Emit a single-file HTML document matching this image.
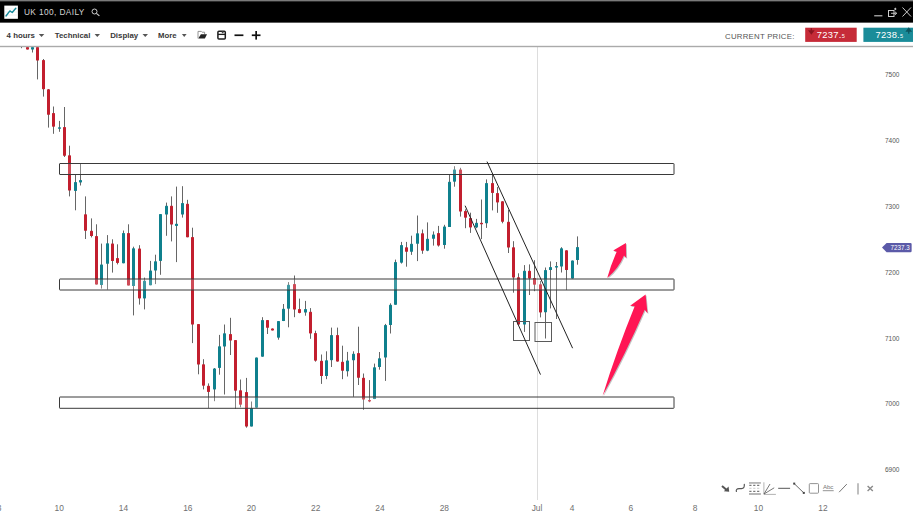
<!DOCTYPE html>
<html><head><meta charset="utf-8">
<style>
html,body{margin:0;padding:0;background:#fff;width:913px;height:516px;overflow:hidden;}
svg{position:absolute;left:0;top:0;display:block;}
text{font-family:"Liberation Sans",sans-serif;}
</style></head><body>
<svg width="913" height="516" viewBox="0 0 913 516">
<rect x="0" y="0" width="913" height="516" fill="#fff"/>
<!-- chart clip area -->
<defs><clipPath id="cl"><rect x="0" y="47" width="913" height="469"/></clipPath></defs>
<line x1="537.5" y1="47" x2="537.5" y2="500" stroke="#ddd" stroke-width="1"/>
<g clip-path="url(#cl)">
<line x1="21.50" y1="47" x2="21.50" y2="48.2" stroke="#666" stroke-width="1"/>
<line x1="27.50" y1="47" x2="27.50" y2="49.5" stroke="#666" stroke-width="1"/>
<rect x="26.00" y="47" width="3.0" height="2.50" rx="0.6" fill="#c21f2e"/>
<line x1="32.50" y1="47" x2="32.50" y2="52.5" stroke="#666" stroke-width="1"/>
<rect x="31.00" y="47" width="3.0" height="2.60" rx="0.6" fill="#0f808d"/>
<line x1="37.50" y1="47" x2="37.50" y2="79.4" stroke="#666" stroke-width="1"/>
<rect x="36.00" y="47" width="3.0" height="13.50" rx="0.6" fill="#c21f2e"/>
<line x1="43.50" y1="59" x2="43.50" y2="96.6" stroke="#666" stroke-width="1"/>
<rect x="42.00" y="60" width="3.0" height="29.20" rx="0.6" fill="#c21f2e"/>
<line x1="48.50" y1="89" x2="48.50" y2="127.6" stroke="#666" stroke-width="1"/>
<rect x="47.00" y="89.2" width="3.0" height="25.60" rx="0.6" fill="#c21f2e"/>
<line x1="53.50" y1="106.5" x2="53.50" y2="133.8" stroke="#666" stroke-width="1"/>
<rect x="52.00" y="112.9" width="3.0" height="13.80" rx="0.6" fill="#c21f2e"/>
<line x1="59.50" y1="120.9" x2="59.50" y2="131.8" stroke="#666" stroke-width="1"/>
<rect x="58.00" y="127.3" width="3.0" height="1.50" rx="0.6" fill="#0f808d"/>
<line x1="64.50" y1="107" x2="64.50" y2="157" stroke="#666" stroke-width="1"/>
<rect x="63.00" y="127.1" width="3.0" height="28.70" rx="0.6" fill="#c21f2e"/>
<line x1="69.50" y1="145.7" x2="69.50" y2="196.4" stroke="#666" stroke-width="1"/>
<rect x="68.00" y="155.3" width="3.0" height="35.30" rx="0.6" fill="#c21f2e"/>
<line x1="75.50" y1="174.4" x2="75.50" y2="210.3" stroke="#666" stroke-width="1"/>
<rect x="74.00" y="182.1" width="3.0" height="8.80" rx="0.6" fill="#0f808d"/>
<line x1="80.50" y1="163.5" x2="80.50" y2="185.5" stroke="#666" stroke-width="1"/>
<rect x="79.00" y="180" width="3.0" height="2.40" rx="0.6" fill="#0f808d"/>
<line x1="85.50" y1="196.4" x2="85.50" y2="239" stroke="#666" stroke-width="1"/>
<rect x="84.00" y="214.2" width="3.0" height="16.60" rx="0.6" fill="#c21f2e"/>
<line x1="91.50" y1="218.4" x2="91.50" y2="237.4" stroke="#666" stroke-width="1"/>
<rect x="90.00" y="230.8" width="3.0" height="5.20" rx="0.6" fill="#c21f2e"/>
<line x1="96.50" y1="224.3" x2="96.50" y2="284.6" stroke="#666" stroke-width="1"/>
<rect x="95.00" y="235.9" width="3.0" height="48.70" rx="0.6" fill="#c21f2e"/>
<line x1="101.50" y1="243.6" x2="101.50" y2="288.6" stroke="#666" stroke-width="1"/>
<rect x="100.00" y="264.4" width="3.0" height="20.60" rx="0.6" fill="#0f808d"/>
<line x1="107.50" y1="235.1" x2="107.50" y2="289.7" stroke="#666" stroke-width="1"/>
<rect x="106.00" y="243.2" width="3.0" height="20.60" rx="0.6" fill="#0f808d"/>
<line x1="112.50" y1="239.3" x2="112.50" y2="272.6" stroke="#666" stroke-width="1"/>
<rect x="111.00" y="243.6" width="3.0" height="17.40" rx="0.6" fill="#c21f2e"/>
<line x1="117.50" y1="244.3" x2="117.50" y2="264.4" stroke="#666" stroke-width="1"/>
<rect x="116.00" y="257.9" width="3.0" height="5.00" rx="0.6" fill="#c21f2e"/>
<line x1="123.50" y1="230.5" x2="123.50" y2="263.3" stroke="#666" stroke-width="1"/>
<rect x="122.00" y="233.1" width="3.0" height="30.20" rx="0.6" fill="#0f808d"/>
<line x1="128.50" y1="224.3" x2="128.50" y2="285.5" stroke="#666" stroke-width="1"/>
<rect x="127.00" y="233.1" width="3.0" height="52.40" rx="0.6" fill="#c21f2e"/>
<line x1="133.50" y1="246.7" x2="133.50" y2="315.4" stroke="#666" stroke-width="1"/>
<rect x="132.00" y="248.3" width="3.0" height="37.70" rx="0.6" fill="#0f808d"/>
<line x1="139.50" y1="245.2" x2="139.50" y2="304.6" stroke="#666" stroke-width="1"/>
<rect x="138.00" y="248.6" width="3.0" height="49.80" rx="0.6" fill="#c21f2e"/>
<line x1="144.50" y1="277.6" x2="144.50" y2="309.4" stroke="#666" stroke-width="1"/>
<rect x="143.00" y="280.7" width="3.0" height="17.70" rx="0.6" fill="#0f808d"/>
<line x1="150.50" y1="260.9" x2="150.50" y2="285.3" stroke="#666" stroke-width="1"/>
<rect x="149.00" y="270.6" width="3.0" height="14.70" rx="0.6" fill="#0f808d"/>
<line x1="155.50" y1="254.7" x2="155.50" y2="284.1" stroke="#666" stroke-width="1"/>
<rect x="154.00" y="261.2" width="3.0" height="9.40" rx="0.6" fill="#0f808d"/>
<line x1="160.50" y1="214" x2="160.50" y2="274.8" stroke="#666" stroke-width="1"/>
<rect x="159.00" y="214.1" width="3.0" height="46.80" rx="0.6" fill="#0f808d"/>
<line x1="166.50" y1="202.6" x2="166.50" y2="235.8" stroke="#666" stroke-width="1"/>
<rect x="165.00" y="205.7" width="3.0" height="8.80" rx="0.6" fill="#0f808d"/>
<line x1="171.50" y1="196.4" x2="171.50" y2="241.4" stroke="#666" stroke-width="1"/>
<rect x="170.00" y="205.7" width="3.0" height="18.90" rx="0.6" fill="#c21f2e"/>
<line x1="176.50" y1="186.6" x2="176.50" y2="262.1" stroke="#666" stroke-width="1"/>
<rect x="175.00" y="223.8" width="3.0" height="2.10" rx="0.6" fill="#0f808d"/>
<line x1="182.50" y1="186.2" x2="182.50" y2="217.6" stroke="#666" stroke-width="1"/>
<rect x="181.00" y="202.9" width="3.0" height="11.60" rx="0.6" fill="#0f808d"/>
<line x1="187.50" y1="199.8" x2="187.50" y2="237.3" stroke="#666" stroke-width="1"/>
<rect x="186.00" y="203.7" width="3.0" height="33.60" rx="0.6" fill="#c21f2e"/>
<line x1="192.50" y1="227.7" x2="192.50" y2="343.1" stroke="#666" stroke-width="1"/>
<rect x="191.00" y="237" width="3.0" height="87.50" rx="0.6" fill="#c21f2e"/>
<line x1="198.50" y1="324" x2="198.50" y2="374.3" stroke="#666" stroke-width="1"/>
<rect x="197.00" y="324" width="3.0" height="40.50" rx="0.6" fill="#c21f2e"/>
<line x1="203.50" y1="359.2" x2="203.50" y2="389.4" stroke="#666" stroke-width="1"/>
<rect x="202.00" y="364.3" width="3.0" height="21.40" rx="0.6" fill="#c21f2e"/>
<line x1="208.50" y1="383.4" x2="208.50" y2="408" stroke="#666" stroke-width="1"/>
<rect x="207.00" y="385.7" width="3.0" height="6.20" rx="0.6" fill="#c21f2e"/>
<line x1="214.50" y1="368" x2="214.50" y2="401.2" stroke="#666" stroke-width="1"/>
<rect x="213.00" y="368.4" width="3.0" height="21.00" rx="0.6" fill="#0f808d"/>
<line x1="219.50" y1="334.9" x2="219.50" y2="374.7" stroke="#666" stroke-width="1"/>
<rect x="218.00" y="346.2" width="3.0" height="21.70" rx="0.6" fill="#0f808d"/>
<line x1="224.50" y1="324.5" x2="224.50" y2="394.5" stroke="#666" stroke-width="1"/>
<rect x="223.00" y="333.3" width="3.0" height="13.20" rx="0.6" fill="#0f808d"/>
<line x1="230.50" y1="317.8" x2="230.50" y2="355" stroke="#666" stroke-width="1"/>
<rect x="229.00" y="334.1" width="3.0" height="6.50" rx="0.6" fill="#c21f2e"/>
<line x1="235.50" y1="340" x2="235.50" y2="408.8" stroke="#666" stroke-width="1"/>
<rect x="234.00" y="340" width="3.0" height="50.70" rx="0.6" fill="#c21f2e"/>
<line x1="240.50" y1="379.5" x2="240.50" y2="407.3" stroke="#666" stroke-width="1"/>
<rect x="239.00" y="390.2" width="3.0" height="14.50" rx="0.6" fill="#c21f2e"/>
<line x1="246.50" y1="377.9" x2="246.50" y2="427.7" stroke="#666" stroke-width="1"/>
<rect x="245.00" y="391.9" width="3.0" height="34.60" rx="0.6" fill="#c21f2e"/>
<line x1="251.50" y1="401.5" x2="251.50" y2="426.5" stroke="#666" stroke-width="1"/>
<rect x="250.00" y="408.1" width="3.0" height="18.40" rx="0.6" fill="#0f808d"/>
<line x1="256.50" y1="357.6" x2="256.50" y2="407.7" stroke="#666" stroke-width="1"/>
<rect x="255.00" y="357.6" width="3.0" height="50.10" rx="0.6" fill="#0f808d"/>
<line x1="262.50" y1="317.2" x2="262.50" y2="356.7" stroke="#666" stroke-width="1"/>
<rect x="261.00" y="320" width="3.0" height="36.70" rx="0.6" fill="#0f808d"/>
<line x1="267.50" y1="320" x2="267.50" y2="334" stroke="#666" stroke-width="1"/>
<rect x="266.00" y="320" width="3.0" height="7.80" rx="0.6" fill="#c21f2e"/>
<line x1="272.50" y1="328.4" x2="272.50" y2="330.4" stroke="#666" stroke-width="1"/>
<rect x="271.00" y="328.4" width="3.0" height="2.00" rx="0.6" fill="#c21f2e"/>
<line x1="278.50" y1="321" x2="278.50" y2="339.7" stroke="#666" stroke-width="1"/>
<rect x="277.00" y="321.1" width="3.0" height="16.60" rx="0.6" fill="#0f808d"/>
<line x1="283.50" y1="304" x2="283.50" y2="321.1" stroke="#666" stroke-width="1"/>
<rect x="282.00" y="308.7" width="3.0" height="12.40" rx="0.6" fill="#0f808d"/>
<line x1="288.50" y1="282.1" x2="288.50" y2="327.3" stroke="#666" stroke-width="1"/>
<rect x="287.00" y="284.7" width="3.0" height="24.00" rx="0.6" fill="#0f808d"/>
<line x1="294.50" y1="275.5" x2="294.50" y2="317.2" stroke="#666" stroke-width="1"/>
<rect x="293.00" y="284" width="3.0" height="25.50" rx="0.6" fill="#c21f2e"/>
<line x1="299.50" y1="298.6" x2="299.50" y2="313.3" stroke="#666" stroke-width="1"/>
<rect x="298.00" y="309.1" width="3.0" height="3.80" rx="0.6" fill="#c21f2e"/>
<line x1="305.50" y1="300.9" x2="305.50" y2="315.7" stroke="#666" stroke-width="1"/>
<rect x="304.00" y="309.1" width="3.0" height="3.50" rx="0.6" fill="#0f808d"/>
<line x1="310.50" y1="308.1" x2="310.50" y2="338.8" stroke="#666" stroke-width="1"/>
<rect x="309.00" y="311.7" width="3.0" height="21.70" rx="0.6" fill="#c21f2e"/>
<line x1="315.50" y1="330.7" x2="315.50" y2="361.7" stroke="#666" stroke-width="1"/>
<rect x="314.00" y="332.9" width="3.0" height="27.80" rx="0.6" fill="#c21f2e"/>
<line x1="321.50" y1="354.5" x2="321.50" y2="383.9" stroke="#666" stroke-width="1"/>
<rect x="320.00" y="360.7" width="3.0" height="15.30" rx="0.6" fill="#c21f2e"/>
<line x1="326.50" y1="351.3" x2="326.50" y2="379.2" stroke="#666" stroke-width="1"/>
<rect x="325.00" y="360.2" width="3.0" height="15.80" rx="0.6" fill="#0f808d"/>
<line x1="331.50" y1="327.6" x2="331.50" y2="367" stroke="#666" stroke-width="1"/>
<rect x="330.00" y="334.9" width="3.0" height="25.30" rx="0.6" fill="#0f808d"/>
<line x1="337.50" y1="327.6" x2="337.50" y2="361.7" stroke="#666" stroke-width="1"/>
<rect x="336.00" y="334.9" width="3.0" height="26.70" rx="0.6" fill="#c21f2e"/>
<line x1="342.50" y1="345.7" x2="342.50" y2="379.2" stroke="#666" stroke-width="1"/>
<rect x="341.00" y="361.8" width="3.0" height="9.00" rx="0.6" fill="#c21f2e"/>
<line x1="347.50" y1="351.9" x2="347.50" y2="376.5" stroke="#666" stroke-width="1"/>
<rect x="346.00" y="360.5" width="3.0" height="10.80" rx="0.6" fill="#0f808d"/>
<line x1="353.50" y1="351.3" x2="353.50" y2="396.8" stroke="#666" stroke-width="1"/>
<rect x="352.00" y="353.8" width="3.0" height="6.50" rx="0.6" fill="#0f808d"/>
<line x1="358.50" y1="326.7" x2="358.50" y2="385" stroke="#666" stroke-width="1"/>
<rect x="357.00" y="353" width="3.0" height="24.80" rx="0.6" fill="#c21f2e"/>
<line x1="363.50" y1="373.5" x2="363.50" y2="409.7" stroke="#666" stroke-width="1"/>
<rect x="362.00" y="377.8" width="3.0" height="21.70" rx="0.6" fill="#c21f2e"/>
<line x1="369.50" y1="380.1" x2="369.50" y2="402.2" stroke="#666" stroke-width="1"/>
<rect x="368.00" y="399.9" width="3.0" height="1.50" rx="0.6" fill="#c21f2e"/>
<line x1="374.50" y1="363.6" x2="374.50" y2="399.1" stroke="#666" stroke-width="1"/>
<rect x="373.00" y="367.2" width="3.0" height="31.90" rx="0.6" fill="#0f808d"/>
<line x1="379.50" y1="352" x2="379.50" y2="369.7" stroke="#666" stroke-width="1"/>
<rect x="378.00" y="358.2" width="3.0" height="8.80" rx="0.6" fill="#0f808d"/>
<line x1="385.50" y1="323.9" x2="385.50" y2="380.9" stroke="#666" stroke-width="1"/>
<rect x="384.00" y="325" width="3.0" height="32.50" rx="0.6" fill="#0f808d"/>
<line x1="390.50" y1="303.3" x2="390.50" y2="333.5" stroke="#666" stroke-width="1"/>
<rect x="389.00" y="304.8" width="3.0" height="20.20" rx="0.6" fill="#0f808d"/>
<line x1="395.50" y1="259.6" x2="395.50" y2="304.8" stroke="#666" stroke-width="1"/>
<rect x="394.00" y="262.1" width="3.0" height="42.70" rx="0.6" fill="#0f808d"/>
<line x1="401.50" y1="241.9" x2="401.50" y2="263.6" stroke="#666" stroke-width="1"/>
<rect x="400.00" y="245" width="3.0" height="17.70" rx="0.6" fill="#0f808d"/>
<line x1="406.50" y1="241.9" x2="406.50" y2="266.7" stroke="#666" stroke-width="1"/>
<rect x="405.00" y="247.2" width="3.0" height="4.60" rx="0.6" fill="#c21f2e"/>
<line x1="411.50" y1="235.7" x2="411.50" y2="254.9" stroke="#666" stroke-width="1"/>
<rect x="410.00" y="243.8" width="3.0" height="8.00" rx="0.6" fill="#0f808d"/>
<line x1="417.50" y1="215.5" x2="417.50" y2="261.1" stroke="#666" stroke-width="1"/>
<rect x="416.00" y="233.2" width="3.0" height="10.60" rx="0.6" fill="#0f808d"/>
<line x1="422.50" y1="229.5" x2="422.50" y2="253.8" stroke="#666" stroke-width="1"/>
<rect x="421.00" y="233.2" width="3.0" height="17.50" rx="0.6" fill="#c21f2e"/>
<line x1="427.50" y1="222.4" x2="427.50" y2="251.2" stroke="#666" stroke-width="1"/>
<rect x="426.00" y="238.8" width="3.0" height="11.90" rx="0.6" fill="#0f808d"/>
<line x1="433.50" y1="231.4" x2="433.50" y2="245.6" stroke="#666" stroke-width="1"/>
<rect x="432.00" y="234.5" width="3.0" height="4.30" rx="0.6" fill="#0f808d"/>
<line x1="438.50" y1="225.9" x2="438.50" y2="246.6" stroke="#666" stroke-width="1"/>
<rect x="437.00" y="232.9" width="3.0" height="12.70" rx="0.6" fill="#c21f2e"/>
<line x1="444.50" y1="224.8" x2="444.50" y2="248.7" stroke="#666" stroke-width="1"/>
<rect x="443.00" y="226.5" width="3.0" height="18.50" rx="0.6" fill="#0f808d"/>
<line x1="449.50" y1="174.3" x2="449.50" y2="227" stroke="#666" stroke-width="1"/>
<rect x="448.00" y="181.7" width="3.0" height="45.30" rx="0.6" fill="#0f808d"/>
<line x1="454.50" y1="166.2" x2="454.50" y2="186.7" stroke="#666" stroke-width="1"/>
<rect x="453.00" y="169.6" width="3.0" height="12.10" rx="0.6" fill="#0f808d"/>
<line x1="460.50" y1="167.8" x2="460.50" y2="216.6" stroke="#666" stroke-width="1"/>
<rect x="459.00" y="169.6" width="3.0" height="41.90" rx="0.6" fill="#c21f2e"/>
<line x1="465.50" y1="209.3" x2="465.50" y2="228.2" stroke="#666" stroke-width="1"/>
<rect x="464.00" y="210.9" width="3.0" height="6.80" rx="0.6" fill="#c21f2e"/>
<line x1="470.50" y1="212.7" x2="470.50" y2="232.9" stroke="#666" stroke-width="1"/>
<rect x="469.00" y="218.1" width="3.0" height="9.30" rx="0.6" fill="#c21f2e"/>
<line x1="476.50" y1="218.9" x2="476.50" y2="228.2" stroke="#666" stroke-width="1"/>
<rect x="475.00" y="222.8" width="3.0" height="4.60" rx="0.6" fill="#0f808d"/>
<line x1="481.50" y1="199.5" x2="481.50" y2="239.1" stroke="#666" stroke-width="1"/>
<rect x="480.00" y="222.8" width="3.0" height="1.50" rx="0.6" fill="#c21f2e"/>
<line x1="486.50" y1="179.4" x2="486.50" y2="227.9" stroke="#666" stroke-width="1"/>
<rect x="485.00" y="182.9" width="3.0" height="40.40" rx="0.6" fill="#0f808d"/>
<line x1="492.50" y1="174.7" x2="492.50" y2="210.4" stroke="#666" stroke-width="1"/>
<rect x="491.00" y="182.9" width="3.0" height="10.00" rx="0.6" fill="#c21f2e"/>
<line x1="497.50" y1="187.1" x2="497.50" y2="212.8" stroke="#666" stroke-width="1"/>
<rect x="496.00" y="192.9" width="3.0" height="9.50" rx="0.6" fill="#c21f2e"/>
<line x1="502.50" y1="201.2" x2="502.50" y2="223.3" stroke="#666" stroke-width="1"/>
<rect x="501.00" y="201.2" width="3.0" height="20.60" rx="0.6" fill="#c21f2e"/>
<line x1="508.50" y1="209.8" x2="508.50" y2="253" stroke="#666" stroke-width="1"/>
<rect x="507.00" y="221.8" width="3.0" height="25.70" rx="0.6" fill="#c21f2e"/>
<line x1="513.50" y1="241.2" x2="513.50" y2="292.7" stroke="#666" stroke-width="1"/>
<rect x="512.00" y="247.2" width="3.0" height="30.30" rx="0.6" fill="#c21f2e"/>
<line x1="518.50" y1="273.3" x2="518.50" y2="324.5" stroke="#666" stroke-width="1"/>
<rect x="517.00" y="277.2" width="3.0" height="47.30" rx="0.6" fill="#c21f2e"/>
<line x1="524.50" y1="265.1" x2="524.50" y2="331.9" stroke="#666" stroke-width="1"/>
<rect x="523.00" y="270.7" width="3.0" height="53.80" rx="0.6" fill="#0f808d"/>
<line x1="529.50" y1="264.4" x2="529.50" y2="295" stroke="#666" stroke-width="1"/>
<rect x="528.00" y="270.7" width="3.0" height="7.70" rx="0.6" fill="#c21f2e"/>
<line x1="534.50" y1="260.2" x2="534.50" y2="291.2" stroke="#666" stroke-width="1"/>
<rect x="533.00" y="278" width="3.0" height="6.70" rx="0.6" fill="#c21f2e"/>
<line x1="540.50" y1="281" x2="540.50" y2="317.4" stroke="#666" stroke-width="1"/>
<rect x="539.00" y="284.2" width="3.0" height="28.20" rx="0.6" fill="#c21f2e"/>
<line x1="545.50" y1="267.5" x2="545.50" y2="338.5" stroke="#666" stroke-width="1"/>
<rect x="544.00" y="270.1" width="3.0" height="42.20" rx="0.6" fill="#0f808d"/>
<line x1="550.50" y1="261.4" x2="550.50" y2="308.4" stroke="#666" stroke-width="1"/>
<rect x="549.00" y="267" width="3.0" height="3.10" rx="0.6" fill="#0f808d"/>
<line x1="556.50" y1="262" x2="556.50" y2="319" stroke="#666" stroke-width="1"/>
<rect x="555.00" y="266.1" width="3.0" height="1.50" rx="0.6" fill="#0f808d"/>
<line x1="561.50" y1="247.2" x2="561.50" y2="272.5" stroke="#666" stroke-width="1"/>
<rect x="560.00" y="248.3" width="3.0" height="18.30" rx="0.6" fill="#0f808d"/>
<line x1="566.50" y1="250.3" x2="566.50" y2="290" stroke="#666" stroke-width="1"/>
<rect x="565.00" y="250.3" width="3.0" height="19.70" rx="0.6" fill="#c21f2e"/>
<line x1="572.50" y1="260.5" x2="572.50" y2="278.6" stroke="#666" stroke-width="1"/>
<rect x="571.00" y="260.5" width="3.0" height="18.10" rx="0.6" fill="#0f808d"/>
<line x1="577.50" y1="236.4" x2="577.50" y2="264.7" stroke="#666" stroke-width="1"/>
<rect x="576.00" y="247.1" width="3.0" height="12.90" rx="0.6" fill="#0f808d"/>
</g>
<!-- rectangles -->
<g fill="#fff" fill-opacity="0.2" stroke="#3a3a3a" stroke-width="1">
<rect x="59.5" y="163.5" width="614.5" height="11" rx="0.5"/>
<rect x="59.5" y="279" width="614.5" height="11" rx="0.5"/>
<rect x="59.5" y="397" width="614.5" height="11.3" rx="0.5"/>
</g>
<g fill="none" stroke="#5a5a5a" stroke-width="1">
<rect x="513.5" y="321.5" width="16" height="19"/>
<rect x="535" y="322.5" width="16.5" height="19"/>
</g>
<g stroke="#222" stroke-width="1">
<line x1="465.1" y1="205.7" x2="540.5" y2="374.6"/>
<line x1="487" y1="161.6" x2="572.6" y2="348.2"/>
</g>
<!-- arrows -->
<defs><filter id="sh" x="-20%" y="-20%" width="140%" height="140%"><feGaussianBlur stdDeviation="0.7"/></filter></defs>
<g fill="#555" opacity="0.35" filter="url(#sh)" transform="translate(0.9,0.9)">
<path d="M607.2 277.9 Q611 264.5 616.7 251.7 L613.2 250.6 L625.9 243 L626.2 258 L624 255.5 Q618.4 268.8 607.2 277.9 Z"/>
<path d="M602.6 395.7 Q616.8 350.3 634.7 306.3 L630.1 305.8 L645.6 294.5 L647.5 313.3 L644.7 309.8 Q625.8 353.8 602.6 395.7 Z"/>
</g>
<g fill="#ff1654">
<path d="M607.2 277.9 Q611 264.5 616.7 251.7 L613.2 250.6 L625.9 243 L626.2 258 L624 255.5 Q618.4 268.8 607.2 277.9 Z"/>
<path d="M602.6 395.7 Q616.8 350.3 634.7 306.3 L630.1 305.8 L645.6 294.5 L647.5 313.3 L644.7 309.8 Q625.8 353.8 602.6 395.7 Z"/>
</g>
<!-- right axis -->
<g font-size="6.5" fill="#555" text-anchor="start">
<text x="885" y="77">7500</text>
<text x="885" y="143">7400</text>
<text x="885" y="209">7300</text>
<text x="885" y="274.5">7200</text>
<text x="885" y="340.5">7100</text>
<text x="885" y="406">7000</text>
<text x="885" y="472">6900</text>
</g>
<path d="M882 247.6 L886.6 242.9 H910.4 Q911.6 242.9 911.6 244.1 V251.1 Q911.6 252.3 910.4 252.3 H886.6 Z" fill="#5b5aa8"/>
<text x="890.5" y="250.3" font-size="6.6" fill="#fff" textLength="19.2" lengthAdjust="spacingAndGlyphs">7237.3</text>
<!-- bottom axis -->
<g font-size="8.4" fill="#707070" text-anchor="middle">
<text x="-1" y="510.7">8</text>
<text x="59.2" y="510.7">10</text>
<text x="123.5" y="510.7">14</text>
<text x="187.8" y="510.7">16</text>
<text x="251.3" y="510.7">20</text>
<text x="315.7" y="510.7">22</text>
<text x="380" y="510.7">24</text>
<text x="444.3" y="510.7">28</text>
<text x="537" y="510.7">Jul</text>
<text x="572.2" y="510.7">4</text>
<text x="630.8" y="510.7">6</text>
<text x="695" y="510.7">8</text>
<text x="758.5" y="510.7">10</text>
<text x="823" y="510.7">12</text>
</g>
<!-- header -->
<rect x="0" y="0" width="913" height="1.2" fill="#7a7a7a"/>
<rect x="0" y="1.2" width="913" height="21.6" fill="#000"/>
<rect x="0" y="22.8" width="913" height="23.2" fill="#fff"/>
<rect x="0" y="45.8" width="913" height="1.4" fill="#aaa"/>
<!-- logo -->
<rect x="4.3" y="5.6" width="13.6" height="13.2" fill="#fff"/>
<g stroke="#ddd" stroke-width="0.5"><line x1="5" y1="9" x2="17" y2="9"/><line x1="5" y1="12" x2="17" y2="12"/><line x1="5" y1="15" x2="17" y2="15"/></g>
<polyline points="6,16 9.9,10.9 12.2,12.5 15.8,8.2" fill="none" stroke="#13899a" stroke-width="1.4" stroke-linecap="round" stroke-linejoin="round"/>
<text x="23.9" y="15.4" font-size="8.3" fill="#d4d4d4" textLength="60.5" lengthAdjust="spacing">UK 100, DAILY</text>
<!-- search icon -->
<circle cx="94.5" cy="11.5" r="2.5" fill="none" stroke="#ccc" stroke-width="1"/>
<line x1="96.4" y1="13.4" x2="99.4" y2="15.9" stroke="#ccc" stroke-width="1.2"/>
<!-- window icons -->
<line x1="874.2" y1="15.8" x2="882.4" y2="15.8" stroke="#ccc" stroke-width="1.1"/>
<rect x="888.5" y="10.5" width="5.5" height="6" fill="none" stroke="#ccc" stroke-width="1"/>
<path d="M891 13.3 H896.5 M895 11.8 L896.8 13.3 L895 14.8" fill="none" stroke="#ccc" stroke-width="0.9"/>
<path d="M895.3 7.6 L896.6 8.9 L895.3 10.2 L894 8.9 Z" fill="#ccc"/>
<path d="M902.5 7.5 L911 16.5 M911 7.5 L902.5 16.5" stroke="#ccc" stroke-width="1"/>
<!-- toolbar -->
<g font-size="8" font-weight="bold" fill="#383838">
<text x="6.6" y="37.9" textLength="28.3" lengthAdjust="spacingAndGlyphs">4 hours</text>
<text x="54.8" y="37.9" textLength="35.6" lengthAdjust="spacingAndGlyphs">Technical</text>
<text x="110.2" y="37.9" textLength="28" lengthAdjust="spacingAndGlyphs">Display</text>
<text x="158.1" y="37.9" textLength="18.6" lengthAdjust="spacingAndGlyphs">More</text>
</g>
<g fill="#555">
<polygon points="38.8,34 44.3,34 41.55,37"/>
<polygon points="94.6,34 100,34 97.3,37"/>
<polygon points="142.5,34 148,34 145.25,37"/>
<polygon points="181.9,34 186.6,34 184.25,37"/>
</g>
<!-- folder -->
<path d="M198 38.4 V31.4 H201.3 L202.1 32.2 H204.6 V34.3" fill="none" stroke="#888" stroke-width="0.9"/>
<polygon points="200.9,34.3 207,34.3 204.9,38.6 198.3,38.6" fill="#222"/>
<!-- save -->
<rect x="217.9" y="31.3" width="7.4" height="7.6" rx="1" fill="none" stroke="#1e1e1e" stroke-width="1.5"/>
<line x1="218" y1="34.4" x2="225.2" y2="34.4" stroke="#1e1e1e" stroke-width="1.3"/>
<rect x="221.8" y="31.3" width="1.8" height="1.9" fill="#444"/>
<!-- minus plus -->
<rect x="234.5" y="34.4" width="8.9" height="1.7" fill="#111"/>
<rect x="251.8" y="34.4" width="8.7" height="1.7" fill="#111"/>
<rect x="255.3" y="31" width="1.7" height="8.6" fill="#111"/>
<!-- current price -->
<text x="725.1" y="38.7" font-size="7.8" fill="#555" textLength="69.2" lengthAdjust="spacing">CURRENT PRICE:</text>
<rect x="805.2" y="27.7" width="51.5" height="14.2" fill="#c62b38"/>
<text x="816.7" y="37.6" font-size="9.4" fill="#fff" textLength="28.1" lengthAdjust="spacing">7237.<tspan font-size="5.6">5</tspan></text>
<path d="M811.35 28.3 v3 M809.3 31 h4.1 l-2.05 2.7 z" stroke="#8a1520" stroke-width="1.3" fill="#8a1520"/>
<rect x="863.4" y="27.7" width="49.6" height="14.2" fill="#1a8c99"/>
<text x="875.5" y="37.6" font-size="9.4" fill="#fff" textLength="27.5" lengthAdjust="spacing">7238.<tspan font-size="5.6">5</tspan></text>
<path d="M908.75 33.7 v-3 M906.7 31 h4.1 l-2.05 -2.7 z" stroke="#0d5660" stroke-width="1.3" fill="#0d5660"/>
<!-- drawing toolbar -->
<path d="M722 486 L727 490.3" stroke="#555" stroke-width="2" fill="none"/>
<polygon points="729.2,491.8 723.8,491.3 728.6,486.6" fill="#555"/>
<path d="M736.4 491.5 C735.8 489.5 737 488.8 739 488.7 L741.5 488.6 C743.5 488.5 744.6 487.6 744.3 484.4" stroke="#555" stroke-width="1.2" fill="none" stroke-linecap="round"/>
<rect x="749" y="482.3" width="11.9" height="1.3" fill="#999"/>
<rect x="749" y="493.3" width="11.9" height="1.4" fill="#999"/>
<g stroke="#444" stroke-width="0.9" stroke-dasharray="2.2 1.7">
<line x1="749.3" y1="485.3" x2="761" y2="485.3"/>
<line x1="749.3" y1="491.3" x2="761" y2="491.3"/>
</g>
<line x1="749.3" y1="488.3" x2="761" y2="488.3" stroke="#bbb" stroke-width="0.8" stroke-dasharray="2.2 1.7"/>
<path d="M763.9 482.3 V494.4 H775.9" stroke="#aaa" stroke-width="0.9" fill="none"/>
<path d="M764 494 L770 484 M764 494 L774.2 487.8" stroke="#555" stroke-width="0.8" fill="none"/>
<path d="M778.2 488.3 H790.1" stroke="#555" stroke-width="1" fill="none"/>
<path d="M794.2 483.6 L803.8 492.9" stroke="#555" stroke-width="0.9" fill="none"/>
<rect x="793.2" y="482.6" width="2" height="2" fill="#444"/>
<rect x="802.8" y="491.9" width="2" height="2" fill="#444"/>
<rect x="809.3" y="483.6" width="9.2" height="9.6" rx="0.8" stroke="#888" stroke-width="0.9" fill="none"/>
<text x="822.9" y="489.4" font-size="5.6" fill="#777" textLength="10.5" lengthAdjust="spacingAndGlyphs">Abc</text>
<line x1="822.8" y1="490.7" x2="833.7" y2="490.7" stroke="#777" stroke-width="0.8"/>
<path d="M839.1 492.2 L846.8 484.1" stroke="#777" stroke-width="1" fill="none"/>
<path d="M858 483.2 V494.4" stroke="#aaa" stroke-width="1.5" fill="none"/>
<path d="M867.6 485.9 L872.8 490.9 M872.8 485.9 L867.6 490.9" stroke="#8a8a8a" stroke-width="1.4" fill="none"/>
</svg>
</body></html>
